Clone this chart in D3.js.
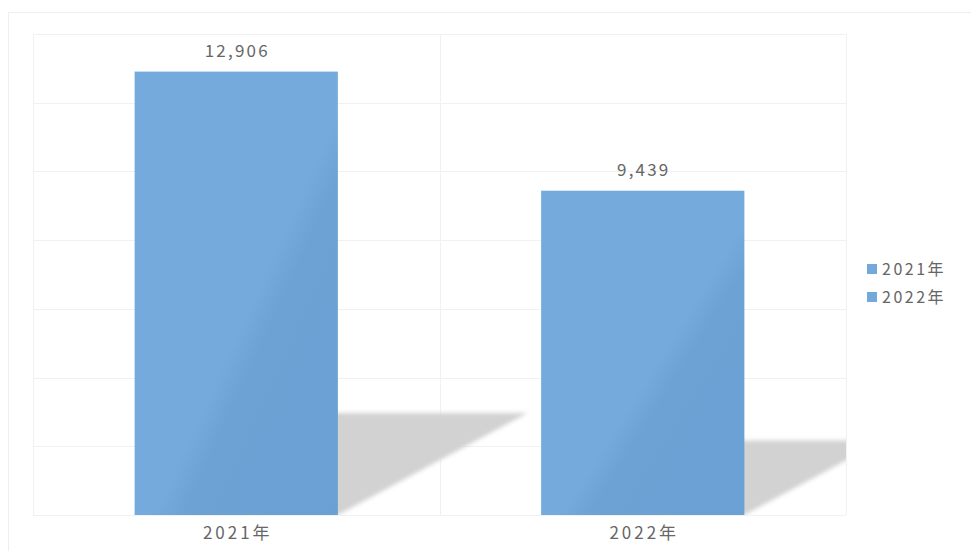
<!DOCTYPE html>
<html>
<head>
<meta charset="utf-8">
<script src="https://cdn.jsdelivr.net/npm/d3@7"></script>
<style>
  html, body { margin: 0; padding: 0; background: #fff; }
  svg text { font-family: "Noto Sans CJK SC", "Noto Sans", sans-serif; fill: #666; }
</style>
</head>
<body>
<div id="chart"></div>
<script>
// data
const categories = ["2021年", "2022年"];
const values = [12906, 9439];
const seriesNames = ["2021年", "2022年"];
const gridTicks = [0, 2000, 4000, 6000, 8000, 10000, 12000, 14000];

const w = 971, h = 551;
const plot = { left: 33, right: 846, top: 34, bottom: 515 };
const barColor = "#72a8da";

const svg = d3.select("#chart").append("svg")
    .attr("width", w)
    .attr("height", h);

const defs = svg.append("defs");

// subtle diagonal shading on the bars
const grad = defs.append("linearGradient")
    .attr("id", "barGrad")
    .attr("x1", "0").attr("y1", "0")
    .attr("x2", "1").attr("y2", "1");
grad.append("stop").attr("offset", "0.55").attr("stop-color", "#74aadc");
grad.append("stop").attr("offset", "0.62").attr("stop-color", "#6ca2d4");
grad.append("stop").attr("offset", "1").attr("stop-color", "#6aa0d3");

defs.append("filter")
    .attr("id", "blur")
    .attr("x", "-10%").attr("y", "-10%")
    .attr("width", "120%").attr("height", "120%")
    .append("feGaussianBlur")
    .attr("stdDeviation", 2);

defs.append("clipPath")
    .attr("id", "plotClip")
    .append("rect")
    .attr("x", plot.left)
    .attr("y", plot.top)
    .attr("width", plot.right - plot.left)
    .attr("height", plot.bottom - plot.top);

// outer frame
svg.append("rect")
    .attr("x", 8.5).attr("y", 12.5)
    .attr("width", w + 20).attr("height", h + 20)
    .attr("fill", "none")
    .attr("stroke", "#efefef");

const x = d3.scaleBand()
    .domain(categories)
    .range([plot.left, plot.right])
    .paddingInner(0.5)
    .paddingOuter(0.25);

const y = d3.scaleLinear()
    .domain([0, 14000])
    .range([plot.bottom, plot.top]);

// grid
const grid = svg.append("g");
grid.selectAll("line.h")
    .data(gridTicks)
    .enter()
    .append("line")
    .attr("x1", plot.left)
    .attr("x2", plot.right)
    .attr("y1", d => Math.round(y(d)) + 0.5)
    .attr("y2", d => Math.round(y(d)) + 0.5)
    .attr("stroke", "#f1f1f1");

const xEdges = [plot.left, (plot.left + plot.right) / 2, plot.right];
grid.selectAll("line.v")
    .data(xEdges)
    .enter()
    .append("line")
    .attr("x1", d => Math.round(d) + 0.5)
    .attr("x2", d => Math.round(d) + 0.5)
    .attr("y1", plot.top)
    .attr("y2", plot.bottom)
    .attr("stroke", "#f1f1f1");

// shadows
svg.append("g")
    .attr("clip-path", "url(#plotClip)")
    .selectAll("polygon")
    .data(values)
    .enter()
    .append("polygon")
    .attr("points", (d, i) => {
        const x0 = x(categories[i]);
        const x1 = x0 + x.bandwidth();
        const bh = y(0) - y(d);
        const dy = bh * 0.23;
        const dx = bh * 0.428;
        const b = y(0);
        return [[x0, b], [x1, b], [x1 + dx, b - dy], [x0 + dx, b - dy]]
            .map(p => p.join(",")).join(" ");
    })
    .attr("fill", "#d2d2d2")
    .attr("filter", "url(#blur)");

// bars
svg.append("g")
    .selectAll("rect")
    .data(values)
    .enter()
    .append("rect")
    .attr("x", (d, i) => x(categories[i]))
    .attr("y", d => y(d))
    .attr("width", x.bandwidth())
    .attr("height", d => y(0) - y(d))
    .attr("fill", "url(#barGrad)");

// value labels
svg.append("g")
    .selectAll("text")
    .data(values)
    .enter()
    .append("text")
    .attr("x", (d, i) => x(categories[i]) + x.bandwidth() / 2 + 1)
    .attr("y", d => y(d) - 15)
    .attr("text-anchor", "middle")
    .attr("font-size", 17)
    .attr("letter-spacing", 2.2)
    .text(d => d3.format(",")(d));

// x axis labels
const xAxis = d3.axisBottom(x).tickSize(0).tickPadding(12);
const gx = svg.append("g")
    .attr("transform", "translate(0," + plot.bottom + ")")
    .call(xAxis);
gx.select(".domain").remove();
gx.selectAll("text")
    .attr("font-size", 17)
    .attr("letter-spacing", 3)
    .attr("dx", 1.5)
    .style("font-family", "\"Noto Sans CJK SC\", sans-serif")
    .attr("fill", "#666");

// legend
const legend = svg.append("g")
    .attr("transform", "translate(867,264)");
const item = legend.selectAll("g")
    .data(seriesNames)
    .enter()
    .append("g")
    .attr("transform", (d, i) => "translate(0," + i * 28 + ")");
item.append("rect")
    .attr("width", 10)
    .attr("height", 10)
    .attr("fill", barColor);
item.append("text")
    .attr("x", 15)
    .attr("y", 11)
    .attr("font-size", 16)
    .attr("letter-spacing", 2.5)
    .text(d => d);
</script>
</body>
</html>
